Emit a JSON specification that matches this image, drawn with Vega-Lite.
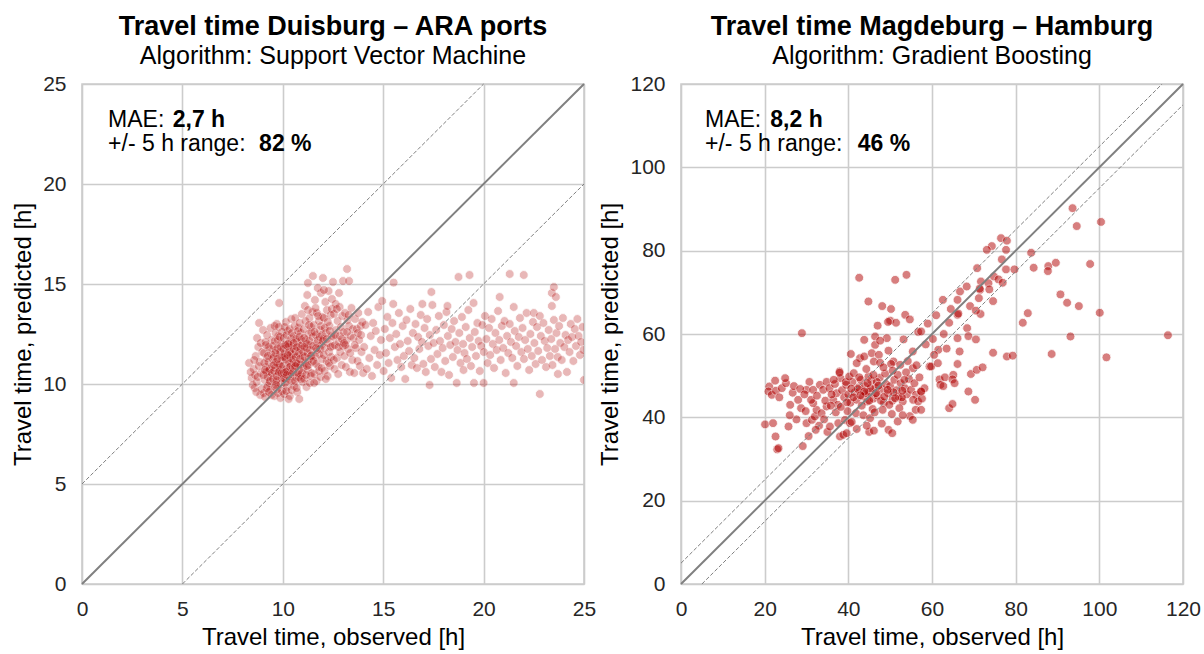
{
"$schema": "https://vega.github.io/schema/vega-lite/v6.json",
"padding": {"left": 10, "top": 12, "right": 2, "bottom": 2},
"bounds": "flush",
"spacing": 97,
"datasets": {
"duisburg": [
{"obs":8.45,"pred":10.3},{"obs":8.6,"pred":9.8},{"obs":8.32,"pred":11.05},{"obs":8.82,"pred":13.05},{"obs":8.55,"pred":10.75},{"obs":8.7,"pred":10.1},{"obs":8.88,"pred":9.45},{"obs":8.65,"pred":11.4},{"obs":8.78,"pred":11.85},{"obs":8.5,"pred":9.95},{"obs":8.92,"pred":10.55},{"obs":8.72,"pred":12.3},{"obs":8.85,"pred":11.1},{"obs":8.62,"pred":10.45},{"obs":8.95,"pred":9.75},{"obs":8.4,"pred":10.6},{"obs":8.8,"pred":10.9},{"obs":8.9,"pred":12.05},{"obs":8.68,"pred":9.6},{"obs":8.98,"pred":11.6},{"obs":8.58,"pred":11.2},{"obs":8.75,"pred":10.35},
{"obs":9.02,"pred":12.7},{"obs":9.05,"pred":9.55},{"obs":9.1,"pred":10.2},{"obs":9.15,"pred":10.85},{"obs":9.2,"pred":11.3},{"obs":9.25,"pred":9.9},{"obs":9.3,"pred":10.65},{"obs":9.35,"pred":11.75},{"obs":9.4,"pred":10.4},{"obs":9.45,"pred":12.2},{"obs":9.08,"pred":11.05},{"obs":9.12,"pred":9.35},{"obs":9.18,"pred":10.6},{"obs":9.22,"pred":12.45},{"obs":9.28,"pred":11.1},{"obs":9.33,"pred":10.05},{"obs":9.38,"pred":9.7},{"obs":9.42,"pred":11.5},{"obs":9.48,"pred":10.9},{"obs":9.03,"pred":10.45},{"obs":9.07,"pred":11.55},{"obs":9.14,"pred":12.1},{"obs":9.19,"pred":9.8},{"obs":9.24,"pred":10.35},{"obs":9.29,"pred":11.85},{"obs":9.34,"pred":10.75},{"obs":9.39,"pred":12.8},{"obs":9.44,"pred":9.45},{"obs":9.49,"pred":11.25},{"obs":9.11,"pred":10.7},{"obs":9.26,"pred":11.4},{"obs":9.36,"pred":10.15},{"obs":9.46,"pred":10.55},{"obs":9.16,"pred":11.95},{"obs":9.31,"pred":9.6},
{"obs":9.52,"pred":10.25},{"obs":9.55,"pred":11.35},{"obs":9.58,"pred":9.4},{"obs":9.6,"pred":12.15},{"obs":9.62,"pred":10.8},{"obs":9.65,"pred":11.7},{"obs":9.68,"pred":10.1},{"obs":9.7,"pred":13.0},{"obs":9.72,"pred":9.75},{"obs":9.75,"pred":11.0},{"obs":9.78,"pred":12.4},{"obs":9.8,"pred":10.5},{"obs":9.82,"pred":14.05},{"obs":9.85,"pred":11.45},{"obs":9.88,"pred":9.3},{"obs":9.9,"pred":10.85},{"obs":9.92,"pred":12.0},{"obs":9.95,"pred":10.3},{"obs":9.98,"pred":11.2},{"obs":9.53,"pred":11.9},{"obs":9.57,"pred":10.65},{"obs":9.61,"pred":9.85},{"obs":9.64,"pred":12.55},{"obs":9.67,"pred":11.1},{"obs":9.71,"pred":10.4},{"obs":9.74,"pred":11.8},{"obs":9.77,"pred":9.55},{"obs":9.81,"pred":12.85},{"obs":9.84,"pred":10.7},{"obs":9.87,"pred":11.6},{"obs":9.91,"pred":10.0},{"obs":9.94,"pred":11.35},{"obs":9.97,"pred":12.6},{"obs":9.56,"pred":10.95},{"obs":9.63,"pred":11.55},{"obs":9.69,"pred":10.2},{"obs":9.76,"pred":12.2},{"obs":9.83,"pred":10.95},{"obs":9.89,"pred":11.85},{"obs":9.96,"pred":9.65},{"obs":9.59,"pred":12.9},{"obs":9.66,"pred":9.95},{"obs":9.73,"pred":11.25},{"obs":9.79,"pred":10.6},{"obs":9.86,"pred":12.35},{"obs":9.93,"pred":10.55},
{"obs":10.02,"pred":10.9},{"obs":10.05,"pred":12.3},{"obs":10.07,"pred":9.5},{"obs":10.1,"pred":11.55},{"obs":10.12,"pred":10.25},{"obs":10.15,"pred":13.1},{"obs":10.18,"pred":10.75},{"obs":10.2,"pred":11.95},{"obs":10.22,"pred":9.85},{"obs":10.25,"pred":12.65},{"obs":10.28,"pred":11.15},{"obs":10.3,"pred":10.4},{"obs":10.33,"pred":12.1},{"obs":10.35,"pred":9.4},{"obs":10.38,"pred":11.7},{"obs":10.4,"pred":10.95},{"obs":10.43,"pred":13.25},{"obs":10.45,"pred":10.15},{"obs":10.48,"pred":11.4},{"obs":10.03,"pred":11.75},{"obs":10.06,"pred":10.55},{"obs":10.09,"pred":12.85},{"obs":10.11,"pred":10.05},{"obs":10.14,"pred":11.25},{"obs":10.17,"pred":9.65},{"obs":10.19,"pred":12.45},{"obs":10.23,"pred":10.65},{"obs":10.26,"pred":11.85},{"obs":10.29,"pred":9.25},{"obs":10.32,"pred":11.05},{"obs":10.34,"pred":12.75},{"obs":10.37,"pred":10.5},{"obs":10.39,"pred":11.3},{"obs":10.42,"pred":12.25},{"obs":10.44,"pred":9.7},{"obs":10.47,"pred":11.9},{"obs":10.49,"pred":10.8},{"obs":10.04,"pred":10.3},{"obs":10.13,"pred":11.95},{"obs":10.21,"pred":10.45},{"obs":10.27,"pred":12.0},{"obs":10.31,"pred":11.6},{"obs":10.36,"pred":10.85},{"obs":10.41,"pred":11.5},{"obs":10.46,"pred":12.55},{"obs":10.08,"pred":11.35},{"obs":10.16,"pred":10.6},{"obs":10.24,"pred":11.45},{"obs":10.34,"pred":10.2},{"obs":10.46,"pred":10.5},
{"obs":10.52,"pred":11.2},{"obs":10.55,"pred":12.4},{"obs":10.57,"pred":9.9},{"obs":10.6,"pred":10.85},{"obs":10.62,"pred":13.3},{"obs":10.65,"pred":11.65},{"obs":10.68,"pred":10.3},{"obs":10.7,"pred":12.1},{"obs":10.72,"pred":9.6},{"obs":10.75,"pred":11.45},{"obs":10.78,"pred":12.8},{"obs":10.8,"pred":10.7},{"obs":10.82,"pred":9.25},{"obs":10.85,"pred":11.9},{"obs":10.88,"pred":10.45},{"obs":10.9,"pred":12.55},{"obs":10.92,"pred":11.1},{"obs":10.95,"pred":13.5},{"obs":10.98,"pred":10.1},{"obs":10.53,"pred":10.6},{"obs":10.56,"pred":11.75},{"obs":10.59,"pred":12.9},{"obs":10.61,"pred":10.15},{"obs":10.64,"pred":11.35},{"obs":10.67,"pred":12.25},{"obs":10.69,"pred":9.8},{"obs":10.73,"pred":11.0},{"obs":10.76,"pred":12.65},{"obs":10.79,"pred":10.35},{"obs":10.81,"pred":11.55},{"obs":10.84,"pred":13.05},{"obs":10.87,"pred":10.95},{"obs":10.89,"pred":11.75},{"obs":10.93,"pred":12.2},{"obs":10.96,"pred":10.55},{"obs":10.99,"pred":11.4},{"obs":10.54,"pred":12.05},{"obs":10.63,"pred":10.9},{"obs":10.71,"pred":11.85},{"obs":10.77,"pred":10.55},{"obs":10.83,"pred":12.35},{"obs":10.91,"pred":10.25},{"obs":10.97,"pred":11.95},{"obs":10.66,"pred":11.05},{"obs":10.86,"pred":11.25},
{"obs":11.02,"pred":11.6},{"obs":11.05,"pred":12.75},{"obs":11.07,"pred":10.25},{"obs":11.1,"pred":13.9},{"obs":11.12,"pred":11.05},{"obs":11.15,"pred":12.2},{"obs":11.18,"pred":9.85},{"obs":11.2,"pred":11.8},{"obs":11.22,"pred":14.45},{"obs":11.25,"pred":10.7},{"obs":11.28,"pred":12.5},{"obs":11.3,"pred":11.25},{"obs":11.33,"pred":13.3},{"obs":11.35,"pred":10.05},{"obs":11.38,"pred":11.95},{"obs":11.4,"pred":12.85},{"obs":11.43,"pred":10.55},{"obs":11.45,"pred":11.45},{"obs":11.48,"pred":13.6},{"obs":11.03,"pred":10.8},{"obs":11.06,"pred":12.3},{"obs":11.09,"pred":11.35},{"obs":11.13,"pred":13.15},{"obs":11.16,"pred":10.45},{"obs":11.19,"pred":12.0},{"obs":11.23,"pred":11.55},{"obs":11.26,"pred":13.7},{"obs":11.29,"pred":10.95},{"obs":11.32,"pred":12.15},{"obs":11.36,"pred":11.7},{"obs":11.39,"pred":10.4},{"obs":11.42,"pred":12.6},{"obs":11.46,"pred":11.1},{"obs":11.49,"pred":12.35},{"obs":11.08,"pred":11.85},{"obs":11.21,"pred":10.9},{"obs":11.31,"pred":12.95},{"obs":11.41,"pred":11.4},{"obs":11.25,"pred":15.05},{"obs":11.5,"pred":15.4},
{"obs":11.52,"pred":11.9},{"obs":11.55,"pred":12.95},{"obs":11.57,"pred":10.5},{"obs":11.6,"pred":14.2},{"obs":11.62,"pred":11.35},{"obs":11.65,"pred":12.45},{"obs":11.68,"pred":10.15},{"obs":11.7,"pred":13.55},{"obs":11.72,"pred":11.7},{"obs":11.75,"pred":12.2},{"obs":11.78,"pred":10.85},{"obs":11.8,"pred":13.15},{"obs":11.82,"pred":11.5},{"obs":11.85,"pred":12.7},{"obs":11.88,"pred":10.35},{"obs":11.9,"pred":14.55},{"obs":11.92,"pred":11.95},{"obs":11.95,"pred":12.45},{"obs":11.98,"pred":13.35},{"obs":11.53,"pred":11.15},{"obs":11.58,"pred":12.6},{"obs":11.63,"pred":13.8},{"obs":11.67,"pred":11.0},{"obs":11.71,"pred":12.05},{"obs":11.76,"pred":13.4},{"obs":11.81,"pred":10.65},{"obs":11.86,"pred":11.75},{"obs":11.91,"pred":12.9},{"obs":11.96,"pred":11.25},{"obs":11.56,"pred":10.05},{"obs":11.66,"pred":11.8},{"obs":11.74,"pred":14.8},{"obs":11.84,"pred":12.35},{"obs":11.94,"pred":10.8},{"obs":11.99,"pred":12.15},
{"obs":12.02,"pred":12.25},{"obs":12.05,"pred":13.3},{"obs":12.08,"pred":10.65},{"obs":12.1,"pred":11.8},{"obs":12.12,"pred":14.1},{"obs":12.15,"pred":12.55},{"obs":12.18,"pred":11.15},{"obs":12.2,"pred":13.7},{"obs":12.23,"pred":10.4},{"obs":12.25,"pred":12.05},{"obs":12.28,"pred":14.65},{"obs":12.3,"pred":11.6},{"obs":12.33,"pred":12.9},{"obs":12.35,"pred":10.9},{"obs":12.38,"pred":13.45},{"obs":12.4,"pred":11.35},{"obs":12.43,"pred":12.4},{"obs":12.45,"pred":14.25},{"obs":12.48,"pred":11.9},{"obs":12.04,"pred":11.45},{"obs":12.09,"pred":12.8},{"obs":12.14,"pred":10.25},{"obs":12.19,"pred":12.25},{"obs":12.24,"pred":13.1},{"obs":12.29,"pred":11.05},{"obs":12.34,"pred":12.65},{"obs":12.39,"pred":11.85},{"obs":12.44,"pred":13.75},{"obs":12.0,"pred":15.3},{"obs":12.05,"pred":14.7},
{"obs":12.52,"pred":12.35},{"obs":12.55,"pred":13.5},{"obs":12.58,"pred":10.75},{"obs":12.6,"pred":11.95},{"obs":12.63,"pred":14.0},{"obs":12.66,"pred":12.7},{"obs":12.7,"pred":11.3},{"obs":12.73,"pred":13.15},{"obs":12.76,"pred":10.5},{"obs":12.8,"pred":12.1},{"obs":12.83,"pred":13.85},{"obs":12.86,"pred":11.6},{"obs":12.9,"pred":12.85},{"obs":12.93,"pred":10.95},{"obs":12.96,"pred":13.4},{"obs":12.99,"pred":11.9},{"obs":12.54,"pred":11.2},{"obs":12.62,"pred":12.45},{"obs":12.69,"pred":13.75},{"obs":12.78,"pred":11.85},{"obs":12.85,"pred":12.4},{"obs":12.95,"pred":12.25},{"obs":12.5,"pred":15.1},{"obs":12.8,"pred":14.55},{"obs":13.0,"pred":15.15},
{"obs":13.03,"pred":12.6},{"obs":13.07,"pred":11.4},{"obs":13.1,"pred":13.55},{"obs":13.14,"pred":10.85},{"obs":13.18,"pred":12.2},{"obs":13.22,"pred":13.2},{"obs":13.26,"pred":11.75},{"obs":13.3,"pred":12.9},{"obs":13.34,"pred":10.6},{"obs":13.38,"pred":12.4},{"obs":13.42,"pred":13.8},{"obs":13.46,"pred":11.2},{"obs":13.49,"pred":12.75},{"obs":13.05,"pred":12.05},{"obs":13.12,"pred":11.95},{"obs":13.2,"pred":12.6},{"obs":13.28,"pred":13.45},{"obs":13.36,"pred":11.55},{"obs":13.2,"pred":15.75},{"obs":13.3,"pred":15.15},
{"obs":13.52,"pred":12.3},{"obs":13.56,"pred":10.55},{"obs":13.6,"pred":13.25},{"obs":13.64,"pred":11.8},{"obs":13.68,"pred":12.75},{"obs":13.72,"pred":11.15},{"obs":13.76,"pred":13.55},{"obs":13.8,"pred":12.2},{"obs":13.84,"pred":10.9},{"obs":13.88,"pred":12.9},{"obs":13.92,"pred":11.6},{"obs":13.96,"pred":13.1},{"obs":13.58,"pred":11.95},{"obs":13.74,"pred":12.55},{"obs":13.9,"pred":12.45},{"obs":14.0,"pred":10.55},
{"obs":14.05,"pred":11.85},{"obs":14.12,"pred":12.95},{"obs":14.18,"pred":10.75},{"obs":14.25,"pred":13.6},{"obs":14.31,"pred":11.3},{"obs":14.38,"pred":12.4},{"obs":14.44,"pred":10.4},{"obs":14.5,"pred":13.05},{"obs":14.57,"pred":11.7},{"obs":14.63,"pred":12.65},{"obs":14.7,"pred":10.95},{"obs":14.76,"pred":13.85},{"obs":14.83,"pred":11.45},{"obs":14.89,"pred":12.2},{"obs":14.95,"pred":14.15},{"obs":15.02,"pred":10.65},{"obs":15.08,"pred":12.75},{"obs":15.14,"pred":11.55},{"obs":15.21,"pred":13.35},{"obs":15.27,"pred":11.05},{"obs":15.33,"pred":12.3},{"obs":15.4,"pred":10.3},{"obs":15.46,"pred":13.05},{"obs":15.52,"pred":15.07},{"obs":15.5,"pred":14.0},{"obs":15.58,"pred":11.85},{"obs":15.65,"pred":12.5},{"obs":15.71,"pred":11.2},{"obs":15.78,"pred":13.55},{"obs":15.84,"pred":12.0},{"obs":15.9,"pred":10.85},{"obs":15.97,"pred":12.9},{"obs":16.03,"pred":11.4},{"obs":16.1,"pred":10.25},{"obs":16.16,"pred":13.2},{"obs":16.22,"pred":12.15},{"obs":16.29,"pred":11.65},{"obs":16.35,"pred":13.75},{"obs":16.42,"pred":10.95},{"obs":16.48,"pred":12.55},{"obs":16.55,"pred":11.3},{"obs":16.61,"pred":13.0},{"obs":16.68,"pred":10.8},{"obs":16.74,"pred":12.35},{"obs":16.8,"pred":11.75},{"obs":16.87,"pred":13.45},{"obs":16.95,"pred":14.0},{"obs":16.93,"pred":12.1},{"obs":17.0,"pred":11.0},{"obs":17.06,"pred":12.8},{"obs":17.12,"pred":10.6},{"obs":17.19,"pred":13.25},{"obs":17.25,"pred":11.9},{"obs":17.31,"pred":9.95},{"obs":17.32,"pred":12.45},{"obs":17.38,"pred":11.25},{"obs":17.4,"pred":14.6},{"obs":17.45,"pred":13.95},{"obs":17.51,"pred":12.05},{"obs":17.57,"pred":10.85},{"obs":17.64,"pred":12.7},{"obs":17.7,"pred":11.5},{"obs":17.77,"pred":13.4},{"obs":17.83,"pred":12.15},{"obs":17.9,"pred":10.6},{"obs":17.96,"pred":11.8},{"obs":18.02,"pred":12.95},{"obs":18.09,"pred":11.15},{"obs":18.15,"pred":13.6},{"obs":18.2,"pred":13.9},{"obs":18.22,"pred":12.4},{"obs":18.28,"pred":10.45},{"obs":18.34,"pred":11.95},{"obs":18.41,"pred":12.75},{"obs":18.47,"pred":11.35},{"obs":18.53,"pred":13.15},{"obs":18.6,"pred":12.1},{"obs":18.66,"pred":10.05},{"obs":18.7,"pred":11.7},{"obs":18.75,"pred":15.35},{"obs":18.79,"pred":12.55},{"obs":18.85,"pred":11.05},{"obs":18.92,"pred":13.35},{"obs":18.98,"pred":12.0},{"obs":19.0,"pred":10.7},{"obs":19.05,"pred":11.55},{"obs":19.11,"pred":12.85},{"obs":19.17,"pred":11.25},{"obs":19.24,"pred":13.7},{"obs":19.3,"pred":15.45},{"obs":19.31,"pred":12.3},{"obs":19.37,"pred":10.9},{"obs":19.43,"pred":11.85},{"obs":19.5,"pred":14.05},{"obs":19.52,"pred":10.05},{"obs":19.56,"pred":12.6},{"obs":19.62,"pred":11.4},{"obs":19.69,"pred":13.05},{"obs":19.75,"pred":12.15},{"obs":19.81,"pred":10.65},{"obs":19.88,"pred":11.9},{"obs":19.94,"pred":12.95},{"obs":20.0,"pred":10.05},{"obs":20.01,"pred":11.6},{"obs":20.07,"pred":13.4},{"obs":20.14,"pred":12.25},{"obs":20.2,"pred":11.05},{"obs":20.27,"pred":12.8},{"obs":20.33,"pred":11.45},{"obs":20.4,"pred":13.25},{"obs":20.46,"pred":12.0},{"obs":20.52,"pred":10.8},{"obs":20.59,"pred":12.55},{"obs":20.65,"pred":11.7},{"obs":20.72,"pred":13.65},{"obs":20.8,"pred":14.35},{"obs":20.78,"pred":12.2},{"obs":20.85,"pred":11.2},{"obs":20.91,"pred":12.9},{"obs":20.98,"pred":11.8},{"obs":21.04,"pred":13.15},{"obs":21.1,"pred":10.55},{"obs":21.17,"pred":12.4},{"obs":21.23,"pred":11.55},{"obs":21.3,"pred":15.5},{"obs":21.3,"pred":13.0},{"obs":21.36,"pred":12.1},{"obs":21.43,"pred":11.3},{"obs":21.5,"pred":13.85},{"obs":21.5,"pred":10.05},{"obs":21.55,"pred":12.65},{"obs":21.62,"pred":11.9},{"obs":21.68,"pred":10.9},{"obs":21.75,"pred":12.35},{"obs":21.81,"pred":13.3},{"obs":21.88,"pred":11.6},{"obs":21.94,"pred":12.8},{"obs":22.0,"pred":15.45},{"obs":22.01,"pred":11.25},{"obs":22.07,"pred":12.2},{"obs":22.14,"pred":13.55},{"obs":22.2,"pred":11.75},{"obs":22.27,"pred":10.7},{"obs":22.33,"pred":12.5},{"obs":22.4,"pred":11.4},{"obs":22.46,"pred":13.1},{"obs":22.5,"pred":13.55},{"obs":22.53,"pred":12.05},{"obs":22.59,"pred":11.0},{"obs":22.66,"pred":12.85},{"obs":22.8,"pred":13.4},{"obs":22.72,"pred":11.65},{"obs":22.8,"pred":9.5},{"obs":22.85,"pred":12.4},{"obs":22.91,"pred":11.2},{"obs":22.98,"pred":13.05},{"obs":23.04,"pred":12.15},{"obs":23.11,"pred":10.85},{"obs":23.17,"pred":11.8},{"obs":23.24,"pred":12.7},{"obs":23.3,"pred":11.4},{"obs":23.4,"pred":14.55},{"obs":23.5,"pred":14.85},{"obs":23.4,"pred":13.9},{"obs":23.6,"pred":14.35},{"obs":23.37,"pred":12.25},{"obs":23.43,"pred":10.95},{"obs":23.5,"pred":13.2},{"obs":23.56,"pred":11.75},{"obs":23.63,"pred":12.55},{"obs":23.7,"pred":10.5},{"obs":23.69,"pred":11.35},{"obs":23.76,"pred":12.9},{"obs":23.82,"pred":12.05},{"obs":23.89,"pred":11.2},{"obs":23.95,"pred":13.3},{"obs":24.02,"pred":11.85},{"obs":24.08,"pred":12.45},{"obs":24.15,"pred":10.6},{"obs":24.21,"pred":12.2},{"obs":24.28,"pred":11.6},{"obs":24.34,"pred":13.0},{"obs":24.41,"pred":12.35},{"obs":24.47,"pred":11.15},{"obs":24.54,"pred":12.75},{"obs":24.6,"pred":11.9},{"obs":24.67,"pred":13.25},{"obs":24.73,"pred":12.4},{"obs":24.8,"pred":11.45},{"obs":24.86,"pred":12.1},{"obs":24.93,"pred":12.85},{"obs":24.97,"pred":11.7},{"obs":25.0,"pred":10.2}
],
"magdeburg": [
{"obs":21.1,"pred":47.4},{"obs":20.9,"pred":46.2},{"obs":21.7,"pred":45.4},{"obs":22.7,"pred":46.4},{"obs":24.1,"pred":47.0},{"obs":25.1,"pred":48.2},{"obs":24.9,"pred":49.4},{"obs":26.7,"pred":45.9},{"obs":28.0,"pred":44.2},{"obs":28.7,"pred":42.2},{"obs":26.1,"pred":43.0},{"obs":20.1,"pred":38.3},{"obs":22.0,"pred":38.6},{"obs":22.6,"pred":35.4},{"obs":23.0,"pred":32.3},{"obs":23.3,"pred":32.6},{"obs":25.7,"pred":37.8},{"obs":29.1,"pred":33.1},{"obs":27.6,"pred":39.5},{"obs":30.0,"pred":38.6},{"obs":31.3,"pred":39.4},{"obs":32.0,"pred":40.2},{"obs":32.4,"pred":41.8},{"obs":31.6,"pred":43.4},{"obs":31.1,"pred":44.2},{"obs":30.7,"pred":48.5},{"obs":30.0,"pred":46.6},{"obs":31.6,"pred":46.6},{"obs":33.2,"pred":47.8},{"obs":34.0,"pred":46.6},{"obs":34.8,"pred":48.5},{"obs":33.6,"pred":41.0},{"obs":34.8,"pred":42.6},{"obs":28.9,"pred":60.2},{"obs":22.5,"pred":48.8},{"obs":23.5,"pred":44.8},{"obs":27.0,"pred":47.5},{"obs":28.5,"pred":46.8},{"obs":29.5,"pred":45.5},{"obs":32.5,"pred":45.2},{"obs":33.0,"pred":38.0},{"obs":34.5,"pred":44.0},{"obs":26.0,"pred":40.5},{"obs":29.8,"pred":41.5},{"obs":35.0,"pred":36.5},{"obs":32.2,"pred":37.0},{"obs":30.5,"pred":35.5},{"obs":34.2,"pred":39.5},
{"obs":35.6,"pred":37.8},{"obs":37.6,"pred":38.6},{"obs":39.2,"pred":39.4},{"obs":38.0,"pred":35.4},{"obs":38.8,"pred":35.8},{"obs":40.4,"pred":38.6},{"obs":40.8,"pred":38.9},{"obs":36.4,"pred":44.2},{"obs":37.2,"pred":45.8},{"obs":37.9,"pred":51.0},{"obs":38.1,"pred":49.4},{"obs":35.5,"pred":47.0},{"obs":36.0,"pred":45.5},{"obs":36.8,"pred":48.0},{"obs":37.5,"pred":43.0},{"obs":38.5,"pred":46.5},{"obs":39.0,"pred":44.8},{"obs":39.5,"pred":47.8},{"obs":40.0,"pred":45.5},{"obs":40.5,"pred":43.5},{"obs":41.0,"pred":48.5},{"obs":41.5,"pred":46.0},{"obs":42.0,"pred":44.2},{"obs":42.5,"pred":47.2},{"obs":43.0,"pred":49.0},{"obs":43.5,"pred":45.0},{"obs":44.0,"pred":47.5},{"obs":44.5,"pred":43.8},{"obs":45.0,"pred":46.2},{"obs":45.5,"pred":48.8},{"obs":46.0,"pred":44.5},{"obs":46.5,"pred":47.0},{"obs":47.0,"pred":45.2},{"obs":47.5,"pred":49.5},{"obs":48.0,"pred":46.8},{"obs":48.5,"pred":43.5},{"obs":49.0,"pred":48.0},{"obs":49.5,"pred":45.8},{"obs":50.0,"pred":47.5},{"obs":50.5,"pred":44.0},{"obs":51.0,"pred":49.0},{"obs":51.5,"pred":46.5},{"obs":52.0,"pred":45.0},{"obs":52.5,"pred":48.2},{"obs":53.0,"pred":43.8},{"obs":53.5,"pred":47.0},{"obs":54.0,"pred":45.5},{"obs":54.5,"pred":49.2},{"obs":55.0,"pred":46.6},{"obs":56.2,"pred":45.4},{"obs":57.4,"pred":46.2},{"obs":55.5,"pred":44.2},{"obs":56.7,"pred":43.8},{"obs":54.7,"pred":40.3},{"obs":56.1,"pred":41.8},{"obs":55.4,"pred":39.4},{"obs":40.6,"pred":55.2},{"obs":42.8,"pred":54.2},{"obs":42.0,"pred":53.0},{"obs":43.8,"pred":54.6},{"obs":49.6,"pred":56.0},{"obs":50.8,"pred":53.4},{"obs":50.2,"pred":52.8},{"obs":59.4,"pred":52.2},{"obs":55.4,"pred":51.8},{"obs":37.9,"pred":50.7},{"obs":46.4,"pred":57.4},{"obs":45.6,"pred":55.4},{"obs":47.3,"pred":55.0},{"obs":46.1,"pred":53.4},{"obs":47.6,"pred":53.1},{"obs":53.2,"pred":58.7},{"obs":55.4,"pred":55.8},{"obs":43.8,"pred":58.6},{"obs":46.4,"pred":59.4},{"obs":49.2,"pred":59.0},{"obs":47.6,"pred":58.4},{"obs":56.7,"pred":60.5},{"obs":47.0,"pred":62.0},{"obs":50.0,"pred":63.2},{"obs":51.4,"pred":62.7},{"obs":49.5,"pred":62.9},{"obs":53.6,"pred":64.6},{"obs":54.7,"pred":63.5},{"obs":48.1,"pred":66.7},{"obs":50.2,"pred":66.0},{"obs":44.8,"pred":67.8},{"obs":42.6,"pred":73.5},{"obs":51.2,"pred":73.0},{"obs":53.9,"pred":74.2},{"obs":49.6,"pred":37.0},{"obs":41.2,"pred":44.8},{"obs":42.3,"pred":46.8},{"obs":43.2,"pred":42.8},{"obs":44.2,"pred":45.8},{"obs":44.8,"pred":49.8},{"obs":45.8,"pred":42.0},{"obs":46.8,"pred":48.5},{"obs":47.8,"pred":44.0},{"obs":48.8,"pred":50.5},{"obs":49.8,"pred":43.0},{"obs":50.8,"pred":46.0},{"obs":51.8,"pred":50.2},{"obs":52.8,"pred":44.8},{"obs":53.8,"pred":50.8},{"obs":39.8,"pred":41.5},{"obs":41.8,"pred":41.0},{"obs":43.6,"pred":40.5},{"obs":45.2,"pred":39.8},{"obs":46.3,"pred":41.2},{"obs":48.2,"pred":41.8},{"obs":50.4,"pred":40.8},{"obs":52.2,"pred":42.2},{"obs":37.0,"pred":41.2},{"obs":38.2,"pred":42.5},{"obs":39.4,"pred":48.5},{"obs":40.2,"pred":49.8},{"obs":41.3,"pred":50.6},{"obs":42.6,"pred":49.6},{"obs":44.3,"pred":51.6},{"obs":46.0,"pred":50.2},{"obs":48.4,"pred":52.0},{"obs":50.6,"pred":51.2},{"obs":52.4,"pred":52.6},{"obs":54.2,"pred":53.5},{"obs":45.0,"pred":44.0},{"obs":45.3,"pred":47.0},{"obs":46.6,"pred":45.8},{"obs":47.2,"pred":47.6},{"obs":48.6,"pred":45.0},{"obs":49.4,"pred":46.6},{"obs":43.8,"pred":46.2},{"obs":42.9,"pred":45.3},{"obs":44.6,"pred":48.2},{"obs":40.7,"pred":46.9},{"obs":39.7,"pred":43.6},{"obs":51.2,"pred":44.6},{"obs":52.9,"pred":46.4},{"obs":53.4,"pred":49.0},{"obs":55.8,"pred":48.2},{"obs":57.0,"pred":49.6},{"obs":56.3,"pred":52.5},{"obs":58.2,"pred":47.0},{"obs":57.6,"pred":44.5},{"obs":36.5,"pred":49.0},{"obs":35.8,"pred":42.8},{"obs":45.0,"pred":36.5},{"obs":48.0,"pred":38.5},{"obs":46.1,"pred":36.8},{"obs":50.5,"pred":36.2},{"obs":51.8,"pred":39.0},{"obs":53.0,"pred":40.5},{"obs":44.4,"pred":38.0},{"obs":42.0,"pred":37.2},{"obs":39.6,"pred":36.2},
{"obs":93.6,"pred":90.2},{"obs":94.6,"pred":85.9},{"obs":100.4,"pred":86.9},{"obs":76.5,"pred":83.0},{"obs":77.9,"pred":82.4},{"obs":74.3,"pred":81.1},{"obs":73.1,"pred":80.2},{"obs":77.7,"pred":80.2},{"obs":76.7,"pred":77.9},{"obs":70.8,"pred":75.8},{"obs":77.7,"pred":75.5},{"obs":79.7,"pred":75.5},{"obs":83.7,"pred":79.5},{"obs":84.3,"pred":75.9},{"obs":87.8,"pred":76.3},{"obs":87.7,"pred":75.1},{"obs":89.6,"pred":77.1},{"obs":97.8,"pred":76.8},{"obs":90.7,"pred":69.5},{"obs":92.3,"pred":67.5},{"obs":95.1,"pred":66.7},{"obs":100.1,"pred":65.1},{"obs":82.9,"pred":65.0},{"obs":81.7,"pred":62.7},{"obs":93.1,"pred":59.4},{"obs":116.4,"pred":59.7},{"obs":88.6,"pred":55.2},{"obs":101.7,"pred":54.4},{"obs":77.9,"pred":54.6},{"obs":79.3,"pred":54.8},{"obs":74.6,"pred":55.5},{"obs":62.6,"pred":68.2},{"obs":66.7,"pred":70.2},{"obs":68.3,"pred":71.4},{"obs":66.1,"pred":68.2},{"obs":71.7,"pred":72.6},{"obs":71.5,"pred":70.6},{"obs":71.4,"pred":70.9},{"obs":73.5,"pred":72.2},{"obs":73.7,"pred":70.7},{"obs":74.8,"pred":73.8},{"obs":75.9,"pred":73.1},{"obs":76.9,"pred":72.3},{"obs":71.2,"pred":68.6},{"obs":74.6,"pred":67.9},{"obs":69.1,"pred":66.7},{"obs":71.6,"pred":64.8},{"obs":70.5,"pred":65.6},{"obs":66.1,"pred":64.6},{"obs":66.3,"pred":64.9},{"obs":64.1,"pred":62.7},{"obs":68.4,"pred":61.4},{"obs":68.7,"pred":59.5},{"obs":70.5,"pred":58.7},{"obs":66.1,"pred":59.0},{"obs":61.5,"pred":56.2},{"obs":66.6,"pred":55.8},{"obs":66.1,"pred":52.8},{"obs":59.8,"pred":52.2},{"obs":61.4,"pred":53.0},{"obs":61.8,"pred":49.1},{"obs":63.1,"pred":49.6},{"obs":62.0,"pred":47.8},{"obs":62.7,"pred":47.5},{"obs":65.1,"pred":50.2},{"obs":64.9,"pred":49.1},{"obs":65.4,"pred":48.2},{"obs":69.3,"pred":50.4},{"obs":70.7,"pred":51.4},{"obs":72.1,"pred":52.0},{"obs":68.7,"pred":46.2},{"obs":70.3,"pred":44.2},{"obs":64.1,"pred":42.2},{"obs":64.9,"pred":43.2},{"obs":57.4,"pred":46.2},{"obs":57.4,"pred":41.8},{"obs":57.4,"pred":60.6},{"obs":58.5,"pred":57.5},{"obs":60.2,"pred":58.8},{"obs":62.8,"pred":60.0},{"obs":63.5,"pred":56.5},{"obs":59.0,"pred":62.5},{"obs":61.0,"pred":64.5},{"obs":64.5,"pred":66.0},{"obs":60.5,"pred":55.0}
],
"lines_d": [
{"obs":0,"pred":0,"obs2":25,"pred2":25,"style":"solid"},
{"obs":0,"pred":5,"obs2":20,"pred2":25,"style":"dashed"},
{"obs":5,"pred":0,"obs2":25,"pred2":20,"style":"dashed"}
],
"lines_m": [
{"obs":0,"pred":0,"obs2":120,"pred2":120,"style":"solid"},
{"obs":0,"pred":5,"obs2":115,"pred2":120,"style":"dashed"},
{"obs":5,"pred":0,"obs2":120,"pred2":115,"style":"dashed"}
],
"notes_d": [
{"obs":1.3,"pred":22.85,"text":"MAE:","bold":false},
{"obs":4.52,"pred":22.85,"text":"2,7 h","bold":true},
{"obs":1.3,"pred":21.65,"text":"+/- 5 h range:","bold":false},
{"obs":8.82,"pred":21.65,"text":"82 %","bold":true}
],
"notes_m": [
{"obs":5.74,"pred":109.7,"text":"MAE:","bold":false},
{"obs":21.35,"pred":109.7,"text":"8,2 h","bold":true},
{"obs":5.74,"pred":103.9,"text":"+/- 5 h range:","bold":false},
{"obs":42.24,"pred":103.9,"text":"46 %","bold":true}
]
},
"hconcat": [
{
"width": 502, "height": 500,
"title": {"text": "Travel time Duisburg – ARA ports", "subtitle": "Algorithm: Support Vector Machine", "frame": "group"},
"encoding": {
"x": {"field": "obs", "type": "quantitative", "scale": {"domain": [0, 25], "nice": false}, "axis": {"values": [0, 5, 10, 15, 20, 25], "title": "Travel time, observed [h]"}},
"y": {"field": "pred", "type": "quantitative", "scale": {"domain": [0, 25], "nice": false}, "axis": {"values": [0, 5, 10, 15, 20, 25], "title": "Travel time, predicted [h]"}}
},
"layer": [
{"data": {"name": "duisburg"}, "mark": {"type": "circle", "size": 78, "color": "#b00000", "opacity": 0.28, "stroke": "#ffffff", "strokeWidth": 0.8, "clip": true}},
{"data": {"name": "lines_d"}, "transform": [{"filter": "datum.style === 'dashed'"}], "mark": {"type": "rule", "color": "#808080", "strokeWidth": 1, "strokeDash": [4, 2]}, "encoding": {"x2": {"field": "obs2"}, "y2": {"field": "pred2"}}},
{"data": {"name": "lines_d"}, "transform": [{"filter": "datum.style === 'solid'"}], "mark": {"type": "rule", "color": "#808080", "strokeWidth": 2}, "encoding": {"x2": {"field": "obs2"}, "y2": {"field": "pred2"}}},
{"data": {"name": "notes_d"}, "transform": [{"filter": "!datum.bold"}], "mark": {"type": "text", "align": "left", "baseline": "alphabetic", "fontSize": 23, "color": "#000000"}, "encoding": {"text": {"field": "text"}}},
{"data": {"name": "notes_d"}, "transform": [{"filter": "datum.bold"}], "mark": {"type": "text", "align": "left", "baseline": "alphabetic", "fontSize": 23, "fontWeight": "bold", "color": "#000000"}, "encoding": {"text": {"field": "text"}}}
]
},
{
"width": 502, "height": 500,
"title": {"text": "Travel time Magdeburg – Hamburg", "subtitle": "Algorithm: Gradient Boosting", "frame": "group"},
"encoding": {
"x": {"field": "obs", "type": "quantitative", "scale": {"domain": [0, 120], "nice": false}, "axis": {"values": [0, 20, 40, 60, 80, 100, 120], "title": "Travel time, observed [h]"}},
"y": {"field": "pred", "type": "quantitative", "scale": {"domain": [0, 120], "nice": false}, "axis": {"values": [0, 20, 40, 60, 80, 100, 120], "title": "Travel time, predicted [h]"}}
},
"layer": [
{"data": {"name": "magdeburg"}, "mark": {"type": "circle", "size": 78, "color": "#b00000", "opacity": 0.5, "stroke": "#ffffff", "strokeWidth": 0.8, "clip": true}},
{"data": {"name": "lines_m"}, "transform": [{"filter": "datum.style === 'dashed'"}], "mark": {"type": "rule", "color": "#808080", "strokeWidth": 1, "strokeDash": [4, 2]}, "encoding": {"x2": {"field": "obs2"}, "y2": {"field": "pred2"}}},
{"data": {"name": "lines_m"}, "transform": [{"filter": "datum.style === 'solid'"}], "mark": {"type": "rule", "color": "#808080", "strokeWidth": 2}, "encoding": {"x2": {"field": "obs2"}, "y2": {"field": "pred2"}}},
{"data": {"name": "notes_m"}, "transform": [{"filter": "!datum.bold"}], "mark": {"type": "text", "align": "left", "baseline": "alphabetic", "fontSize": 23, "color": "#000000"}, "encoding": {"text": {"field": "text"}}},
{"data": {"name": "notes_m"}, "transform": [{"filter": "datum.bold"}], "mark": {"type": "text", "align": "left", "baseline": "alphabetic", "fontSize": 23, "fontWeight": "bold", "color": "#000000"}, "encoding": {"text": {"field": "text"}}}
]
}
],
"config": {
"font": "Liberation Sans",
"background": "#ffffff",
"view": {"stroke": "#cccccc", "strokeWidth": 1.6},
"axis": {"grid": true, "gridColor": "#cccccc", "gridWidth": 1.6, "domain": false, "ticks": false, "tickSize": 0, "labelFlush": false, "labelOverlap": false, "labelFontSize": 21, "labelColor": "#262626", "labelFont": "Liberation Sans", "titleFont": "Liberation Sans", "titleFontSize": 24, "titleFontWeight": "normal", "titleColor": "#000000"},
"axisX": {"labelPadding": 14, "titlePadding": 6},
"axisY": {"labelPadding": 16, "titlePadding": 7},
"title": {"font": "Liberation Sans", "subtitleFont": "Liberation Sans", "fontSize": 27, "fontWeight": "bold", "subtitleFontSize": 25, "color": "#000000", "subtitleColor": "#000000", "offset": 3, "subtitlePadding": 0}
}
}
